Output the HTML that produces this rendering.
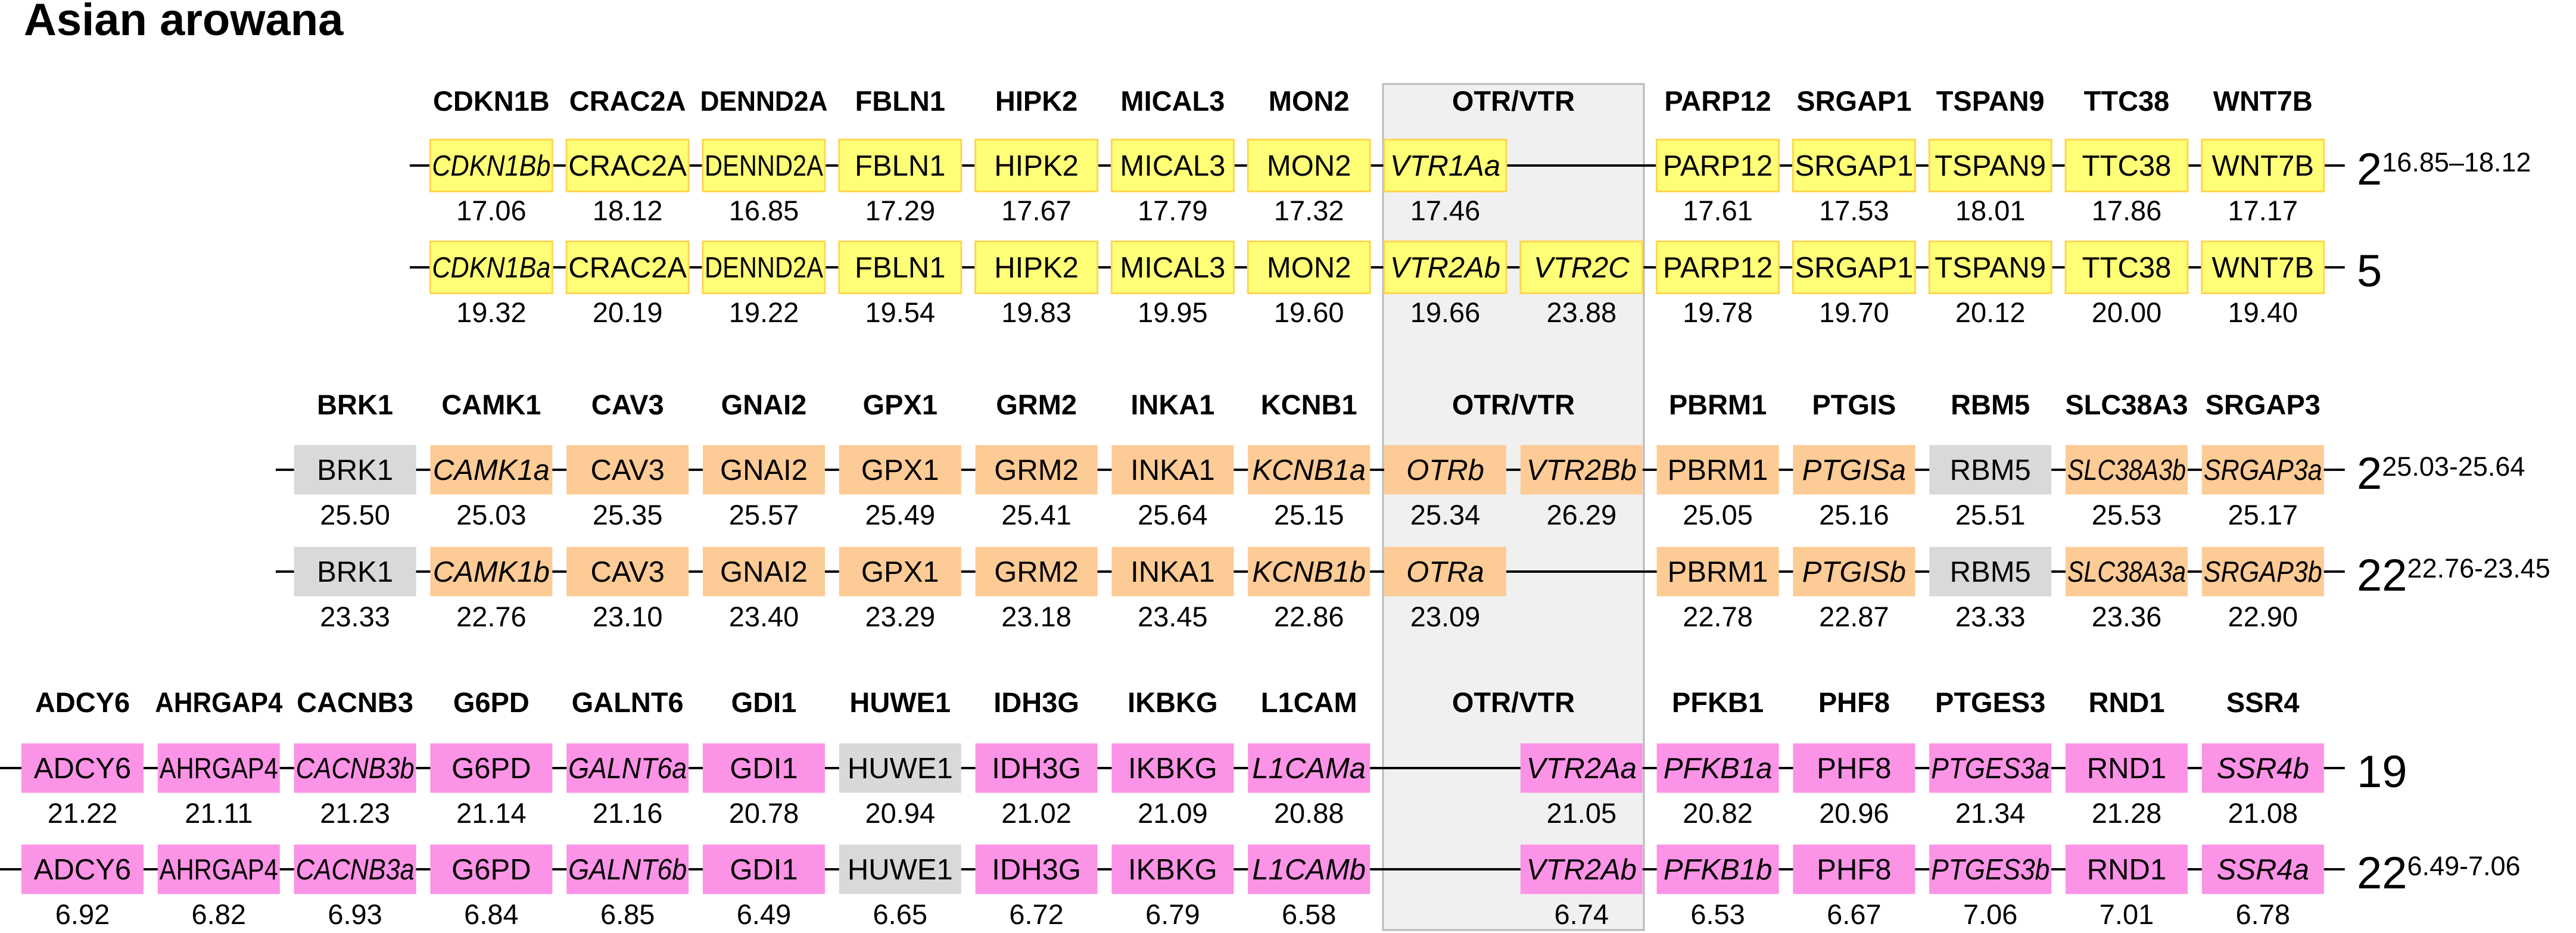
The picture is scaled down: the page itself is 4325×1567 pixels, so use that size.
<!DOCTYPE html>
<html><head><meta charset="utf-8">
<style>
html,body{margin:0;padding:0;background:#fff;}
svg{display:block;font-family:"Liberation Sans",Arial,sans-serif;}
</style></head>
<body>
<svg id="chart" width="4325" height="1567" viewBox="0 0 4325 1567" xmlns="http://www.w3.org/2000/svg">
<rect x="0" y="0" width="4325" height="1567" fill="#fff"/>
<text x="40" y="59" font-size="76" font-weight="bold">Asian arowana</text>
<rect x="2322" y="141" width="438" height="1421" fill="#f0f0f0" stroke="#b9b9b9" stroke-width="3"/>
<g id="content"></g>
</svg>
<script>
// ---- data ----
const s1Headers = ["CDKN1B","CRAC2A","DENND2A","FBLN1","HIPK2","MICAL3","MON2","","","PARP12","SRGAP1","TSPAN9","TTC38","WNT7B"];
const s1Row1Genes = ["CDKN1Bb","CRAC2A","DENND2A","FBLN1","HIPK2","MICAL3","MON2","VTR1Aa","","PARP12","SRGAP1","TSPAN9","TTC38","WNT7B"];
const s1Row1Values = ["17.06","18.12","16.85","17.29","17.67","17.79","17.32","17.46","","17.61","17.53","18.01","17.86","17.17"];
const s1Row2Genes = ["CDKN1Ba","CRAC2A","DENND2A","FBLN1","HIPK2","MICAL3","MON2","VTR2Ab","VTR2C","PARP12","SRGAP1","TSPAN9","TTC38","WNT7B"];
const s1Row2Values = ["19.32","20.19","19.22","19.54","19.83","19.95","19.60","19.66","23.88","19.78","19.70","20.12","20.00","19.40"];

const s2Headers = ["BRK1","CAMK1","CAV3","GNAI2","GPX1","GRM2","INKA1","KCNB1","","","PBRM1","PTGIS","RBM5","SLC38A3","SRGAP3"];
const s2Row1Genes = ["BRK1","CAMK1a","CAV3","GNAI2","GPX1","GRM2","INKA1","KCNB1a","OTRb","VTR2Bb","PBRM1","PTGISa","RBM5","SLC38A3b","SRGAP3a"];
const s2Row1Values = ["25.50","25.03","25.35","25.57","25.49","25.41","25.64","25.15","25.34","26.29","25.05","25.16","25.51","25.53","25.17"];
const s2Row2Genes = ["BRK1","CAMK1b","CAV3","GNAI2","GPX1","GRM2","INKA1","KCNB1b","OTRa","","PBRM1","PTGISb","RBM5","SLC38A3a","SRGAP3b"];
const s2Row2Values = ["23.33","22.76","23.10","23.40","23.29","23.18","23.45","22.86","23.09","","22.78","22.87","23.33","23.36","22.90"];
const s2Gray = ["BRK1","RBM5"];

const s3Headers = ["ADCY6","AHRGAP4","CACNB3","G6PD","GALNT6","GDI1","HUWE1","IDH3G","IKBKG","L1CAM","","","PFKB1","PHF8","PTGES3","RND1","SSR4"];
const s3Row1Genes = ["ADCY6","AHRGAP4","CACNB3b","G6PD","GALNT6a","GDI1","HUWE1","IDH3G","IKBKG","L1CAMa","","VTR2Aa","PFKB1a","PHF8","PTGES3a","RND1","SSR4b"];
const s3Row1Values = ["21.22","21.11","21.23","21.14","21.16","20.78","20.94","21.02","21.09","20.88","","21.05","20.82","20.96","21.34","21.28","21.08"];
const s3Row2Genes = ["ADCY6","AHRGAP4","CACNB3a","G6PD","GALNT6b","GDI1","HUWE1","IDH3G","IKBKG","L1CAMb","","VTR2Ab","PFKB1b","PHF8","PTGES3b","RND1","SSR4a"];
const s3Row2Values = ["6.92","6.82","6.93","6.84","6.85","6.49","6.65","6.72","6.79","6.58","","6.74","6.53","6.67","7.06","7.01","6.78"];
const s3Gray = ["HUWE1"];

const rowLabelMain = ["2","5","2","22","19","22"];
const rowLabelSup = ["16.85–18.12","","25.03-25.64","22.76-23.45","","6.49-7.06"];

// ---- layout ----
const NS = "http://www.w3.org/2000/svg";
const root = document.getElementById('content');
const X0 = 36, PITCH = 228.8, BW = 205;
function slotX(k){ return X0 + k*PITCH; }
function mk(tag, attrs, parent){
  const e = document.createElementNS(NS, tag);
  for (const k in attrs) e.setAttribute(k, attrs[k]);
  (parent||root).appendChild(e);
  return e;
}
function fitText(t, maxW){
  const w = t.getComputedTextLength();
  if (w > maxW){ t.setAttribute('textLength', maxW); t.setAttribute('lengthAdjust','spacingAndGlyphs'); }
}
function isItalic(g){ return /[a-z]$/.test(g) || /^(VTR|OTR)/.test(g); }

const sections = [
  {start:3, headers:s1Headers, rows:[[s1Row1Genes,s1Row1Values],[s1Row2Genes,s1Row2Values]], gray:[], fill:"#ffff77", stroke:"#ffd54f", bh:87, header:186, lines:[278,449], lineStart:688, labels:[0,1]},
  {start:2, headers:s2Headers, rows:[[s2Row1Genes,s2Row1Values],[s2Row2Genes,s2Row2Values]], gray:s2Gray, fill:"#fdcb95", stroke:"none", bh:83, header:696, lines:[789,960], lineStart:463, labels:[2,3]},
  {start:0, headers:s3Headers, rows:[[s3Row1Genes,s3Row1Values],[s3Row2Genes,s3Row2Values]], gray:s3Gray, fill:"#fb93e6", stroke:"none", bh:83, header:1196, lines:[1290,1460], lineStart:0, labels:[4,5]}
];

sections.forEach((sec, si) => {
  sec.headers.forEach((h, i) => {
    if (!h) return;
    const cx = slotX(sec.start + i) + BW/2;
    const t = mk('text', {x:cx, y:sec.header, 'font-size':47, 'font-weight':'bold', 'text-anchor':'middle'});
    
    
    t.textContent = h;
    fitText(t, 214);
  });
  const oh = mk('text', {x:2541, y:sec.header, 'font-size':47, 'font-weight':'bold', 'text-anchor':'middle'});
  
  
  oh.textContent = 'OTR/VTR';

  sec.rows.forEach((row, ri) => {
    const [genes, vals] = row;
    const ly = sec.lines[ri];
    const n = genes.length;
    const lineEnd = slotX(sec.start + n - 1) + BW + 35;
    const ln = mk('line', {x1:sec.lineStart, y1:ly, x2:lineEnd, y2:ly, stroke:'#000', 'stroke-width':4});
    
    
    genes.forEach((g, i) => {
      if (!g) return;
      const x = slotX(sec.start + i);
      const gray = sec.gray.includes(g);
      const r = mk('rect', {x:x, y:ly - sec.bh/2, width:BW, height:sec.bh, fill: gray ? '#d9d9d9' : sec.fill, stroke: gray ? 'none' : sec.stroke, 'stroke-width':3});
      
      
      const t = mk('text', {x:x + BW/2, y:ly + 17, 'font-size':49, 'text-anchor':'middle', 'font-style': isItalic(g) ? 'italic' : 'normal'});
      
      
      t.textContent = g;
      fitText(t, BW - 6);
      const v = mk('text', {x:x + BW/2, y:ly + 92, 'font-size':47, 'text-anchor':'middle'});
      
      
      v.textContent = vals[i];
    });
    const li = sec.labels[ri];
    const lt = mk('text', {x:3957, y:ly + 32, 'font-size':76});
    
    
    lt.textContent = rowLabelMain[li];
    if (rowLabelSup[li]){
      const ts = mk('tspan', {'font-size':45, dy:-22}, lt);
      
      
      ts.textContent = rowLabelSup[li];
    }
  });
});
</script>
</body></html>
